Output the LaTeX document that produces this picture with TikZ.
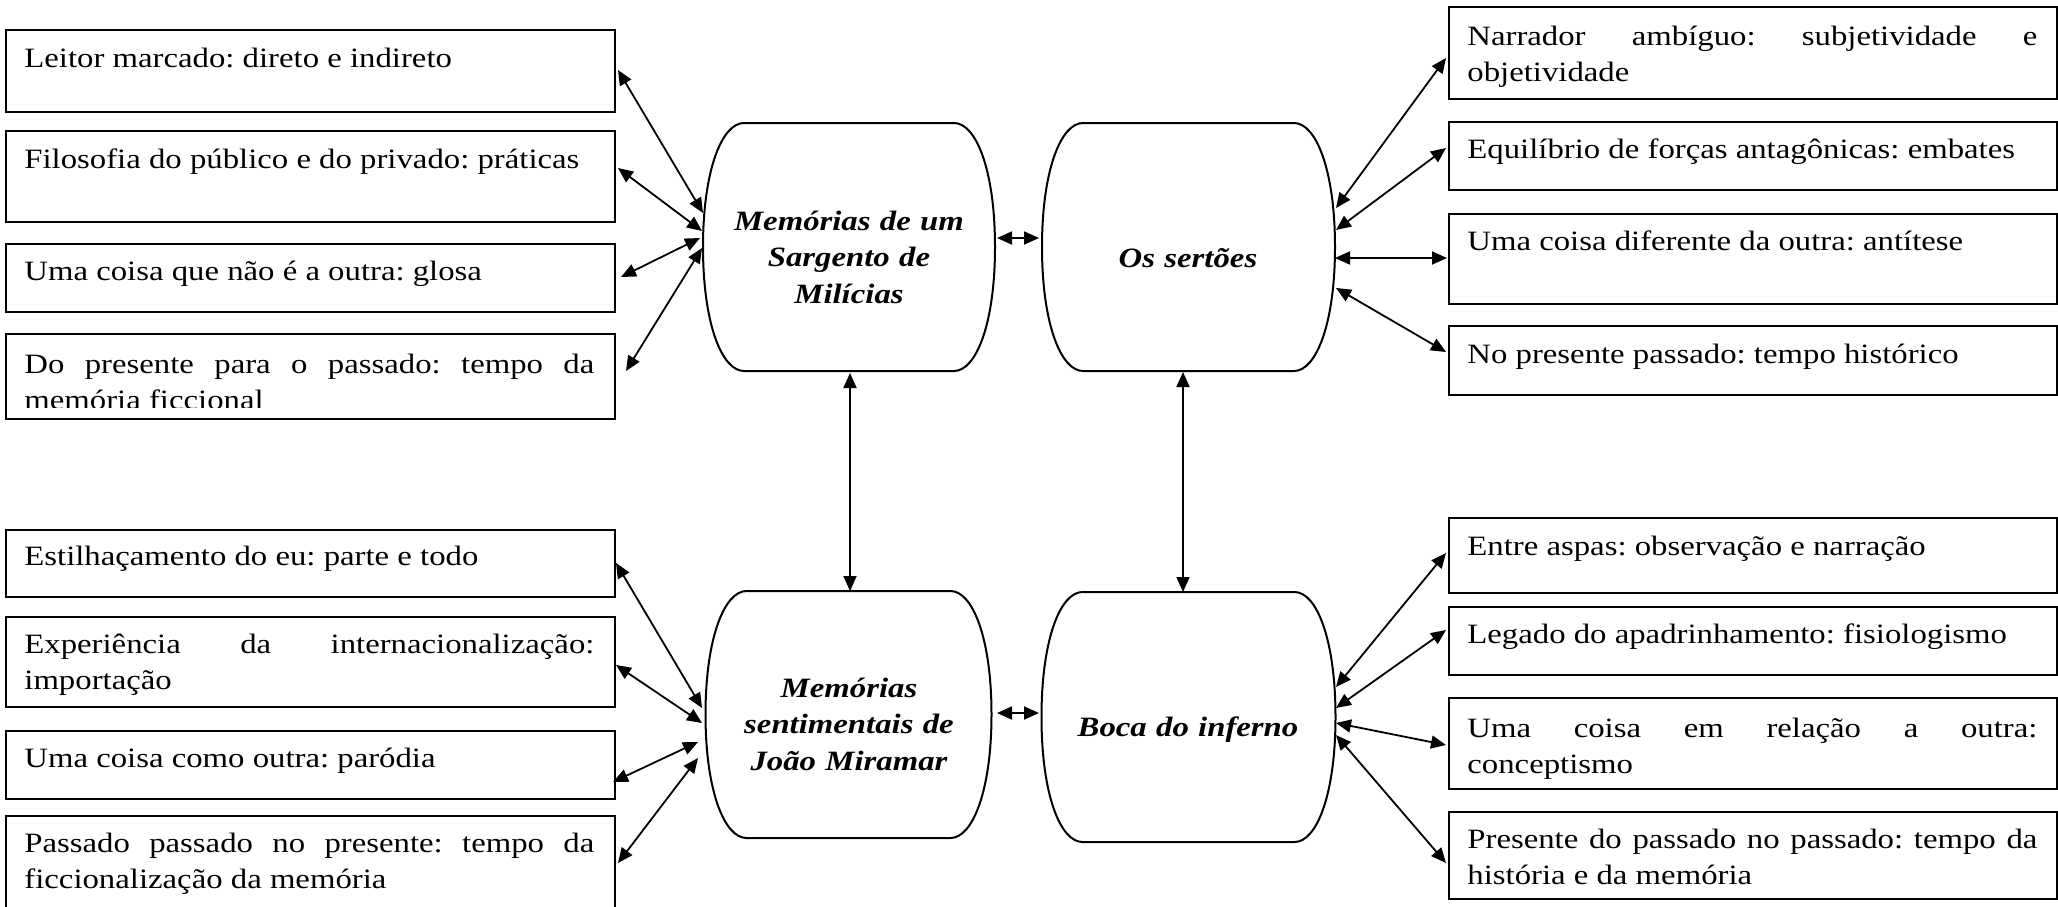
\documentclass[tikz,border=0pt]{standalone}
\usepackage{fontspec}
\setmainfont[FakeStretch=1.17]{Liberation Serif}
\usetikzlibrary{arrows.meta}
\frenchspacing
\newcommand\barreldraw[2]{%
 \draw[frame] (-#1+41,-#2) -- (#1-41,-#2) .. controls (#1-19,-#2) and (#1,-#2+47) .. (#1,0)
   .. controls (#1,#2-47) and (#1-19,#2) .. (#1-41,#2) -- (-#1+41,#2)
   .. controls (-#1+19,#2) and (-#1,#2-47) .. (-#1,0)
   .. controls (-#1,-#2+47) and (-#1+19,-#2) .. (-#1+41,-#2) -- cycle;}
\begin{document}
\frenchspacing
\begin{tikzpicture}[x=0.5pt,y=-0.5pt,
  >={Triangle[length=7.5pt,width=6.5pt]},
  frame/.style={line width=1pt},
  box/.style={draw,line width=1pt,rectangle,inner sep=0pt,anchor=north west},
  lbox/.style={box,minimum width=304.5pt},
  rbox/.style={box,minimum width=304pt},
  txt/.style={anchor=base west,inner sep=0pt,align=justify,text width=285pt,
    font=\fontsize{14}{18.25}\selectfont\frenchspacing},
  core/.style={inner sep=0pt,minimum width=146pt,minimum height=124pt},
  ctxt/.style={anchor=base,inner sep=0pt,align=center,text width=140pt,
    font=\fontsize{14}{18.25}\selectfont\bfseries\itshape},
  conn/.style={line width=0.9pt,<->}]
\useasboundingbox (0,0) rectangle (2058,906);
\fill[white] (0,0) rectangle (2058,906);

% ---------- left boxes ----------
\node[lbox,minimum height=41pt]   (L1) at (5,29)  {};
\node[lbox,minimum height=45.5pt] (L2) at (5,130) {};
\node[lbox,minimum height=34pt]   (L3) at (5,243) {};
\node[lbox,minimum height=42.5pt] (L4) at (5,333) {};
\node[lbox,minimum height=33.5pt] (L5) at (5,529) {};
\node[lbox,minimum height=45pt]   (L6) at (5,616) {};
\node[lbox,minimum height=34pt]   (L7) at (5,730) {};
\node[lbox,minimum height=50pt]   (L8) at (5,815) {};

\node[txt] (tL1) at (24,67)  {Leitor marcado: direto e indireto};
\node[txt] (tL2) at (24,168) {Filosofia do público e do privado: práticas};
\node[txt] (tL3) at (24,280) {Uma coisa que não é a outra: glosa};
\begin{scope}
  \clip (7,335) rectangle (612,407);
  \node[txt] (tL4) at (24,373) {Do presente para o passado: tempo da\linebreak memória ficcional};
\end{scope}
\node[txt] (tL5) at (24,565) {Estilhaçamento do eu: parte e todo};
\node[txt] (tL6) at (24,653) {Experiência da internacionalização:\linebreak importação};
\node[txt] (tL7) at (24,767) {Uma coisa como outra: paródia};
\node[txt] (tL8) at (24,852) {Passado passado no presente: tempo da\linebreak ficcionalização da memória};

% ---------- right boxes ----------
\node[rbox,minimum height=46pt]   (R1) at (1448,6)   {};
\node[rbox,minimum height=34pt]   (R2) at (1448,121) {};
\node[rbox,minimum height=45pt]   (R3) at (1448,213) {};
\node[rbox,minimum height=34.5pt] (R4) at (1448,325) {};
\node[rbox,minimum height=37.5pt] (R5) at (1448,517) {};
\node[rbox,minimum height=34pt]   (R6) at (1448,606) {};
\node[rbox,minimum height=45.5pt] (R7) at (1448,697) {};
\node[rbox,minimum height=43.5pt] (R8) at (1448,811) {};

\node[txt] (tR1) at (1467,45)  {Narrador ambíguo: subjetividade e\linebreak objetividade};
\node[txt] (tR2) at (1467,158) {Equilíbrio de forças antagônicas: embates};
\node[txt] (tR3) at (1467,250) {Uma coisa diferente da outra: antítese};
\node[txt] (tR4) at (1467,363) {No presente passado: tempo histórico};
\node[txt] (tR5) at (1467,555) {Entre aspas: observação e narração};
\node[txt] (tR6) at (1467,643) {Legado do apadrinhamento: fisiologismo};
\node[txt] (tR7) at (1467,737) {Uma coisa em relação a outra:\linebreak conceptismo};
\node[txt] (tR8) at (1467,848) {Presente do passado no passado: tempo da\linebreak história e da memória};

% ---------- central nodes ----------
\node[core] (M1) at (849,247) {};
\node[core] (M2) at (1188.5,247) {};
\node[core] (M3) at (848.5,714.5) {};
\node[core] (M4) at (1188.5,717) {};
\begin{scope}[shift={(M1.center)}]\barreldraw{146}{124}\end{scope}
\begin{scope}[shift={(M2.center)}]\barreldraw{146.5}{124}\end{scope}
\begin{scope}[shift={(M3.center)}]\barreldraw{143}{123.5}\end{scope}
\begin{scope}[shift={(M4.center)}]\barreldraw{147}{125}\end{scope}

\node[ctxt] (tM1) at (849,230)  {Memórias de um\\Sargento de\\Milícias};
\node[ctxt] (tM2) at (1188,267) {Os sertões};
\node[ctxt] (tM3) at (849,697)  {Memórias\\sentimentais de\\João Miramar};
\node[ctxt] (tM4) at (1188,736) {Boca do inferno};

% ---------- connector end points ----------
\coordinate (aL1) at (618,70);   \coordinate (bL1) at (703,213);
\coordinate (aL2) at (618,168);  \coordinate (bL2) at (702,231);
\coordinate (aL3) at (621,277);  \coordinate (bL3) at (700,238);
\coordinate (aL4) at (626,371);  \coordinate (bL4) at (702,248);
\coordinate (aR1) at (1446,58);  \coordinate (bR1) at (1336,208);
\coordinate (aR2) at (1446,148); \coordinate (bR2) at (1336,230);
\coordinate (aR3) at (1447,258); \coordinate (bR3) at (1335,258);
\coordinate (aR4) at (1446,352); \coordinate (bR4) at (1336,288);
\coordinate (aL5) at (616,563);  \coordinate (bL5) at (702,708);
\coordinate (aL6) at (616,665);  \coordinate (bL6) at (702,723);
\coordinate (aL7) at (613,782);  \coordinate (bL7) at (698,742);
\coordinate (aL8) at (618,863);  \coordinate (bL8) at (698,758);
\coordinate (aR5) at (1446,553); \coordinate (bR5) at (1336,687);
\coordinate (aR6) at (1446,630); \coordinate (bR6) at (1336,708);
\coordinate (aR7) at (1446,745); \coordinate (bR7) at (1336,723);
\coordinate (aR8) at (1446,863); \coordinate (bR8) at (1336,735);
\coordinate (h1a) at (997,238);  \coordinate (h1b) at (1039,238);
\coordinate (h2a) at (997,713);  \coordinate (h2b) at (1039,713);
\coordinate (v1a) at (850,373);  \coordinate (v1b) at (850,591);
\coordinate (v2a) at (1183,372); \coordinate (v2b) at (1183,592);

\foreach \s in {L1,L2,L3,L4,L5,L6,L7,L8,R1,R2,R3,R4,R5,R6,R7,R8}
  \draw[conn] (a\s) -- (b\s);
\draw[conn] (h1a) -- (h1b);
\draw[conn] (h2a) -- (h2b);
\draw[conn] (v1a) -- (v1b);
\draw[conn] (v2a) -- (v2b);
\end{tikzpicture}
\end{document}
